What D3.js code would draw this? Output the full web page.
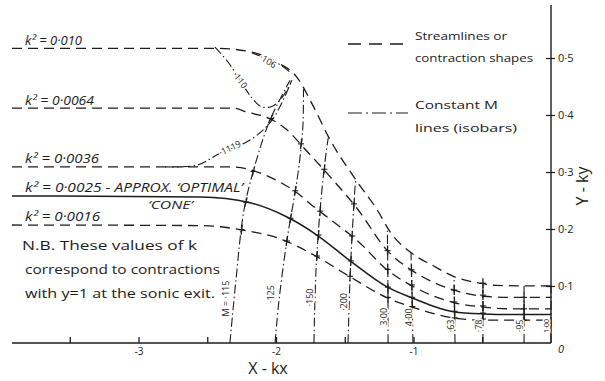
<!DOCTYPE html>
<html>
<head>
<meta charset="utf-8">
<script src="https://cdn.jsdelivr.net/npm/d3@7"></script>
<style>
  body { margin: 0; background: #fff; }
  svg { display: block; }
  text { font-family: "Open Sans", sans-serif; fill: #1c1c1c; }
</style>
</head>
<body>
<svg id="chart" width="605" height="381"></svg>
<script>
// streamlines (contraction shapes), [X, Y]
const streamK0100 = [[-3.92,0.517],[-2.44,0.517],[-2.19,0.511],[-1.99,0.492],[-1.85,0.467],[-1.73,0.416],[-1.61,0.358],[-1.41,0.283],[-1.26,0.232],[-1.17,0.195],[-1.01,0.157],[-0.86,0.136],[-0.71,0.117],[-0.52,0.105],[-0.40,0.101],[0,0.100]];
const streamK0064 = [[-3.92,0.412],[-2.31,0.412],[-2.21,0.405],[-2.04,0.393],[-1.92,0.374],[-1.80,0.343],[-1.63,0.298],[-1.41,0.236],[-1.19,0.162],[-1.01,0.127],[-0.86,0.107],[-0.71,0.093],[-0.49,0.082],[-0.30,0.080],[0,0.080]];
const streamK0036 = [[-3.92,0.309],[-2.33,0.309],[-2.09,0.296],[-1.97,0.282],[-1.85,0.264],[-1.73,0.240],[-1.59,0.214],[-1.41,0.180],[-1.19,0.128],[-1.01,0.100],[-0.86,0.083],[-0.71,0.071],[-0.49,0.063],[-0.30,0.060],[0,0.060]];
const streamK0025 = [[-3.92,0.258],[-2.55,0.256],[-2.19,0.246],[-1.92,0.221],[-1.70,0.189],[-1.46,0.144],[-1.19,0.098],[-1.01,0.079],[-0.86,0.065],[-0.71,0.055],[-0.49,0.051],[-0.30,0.050],[0,0.050]];
const streamK0016 = [[-3.92,0.207],[-2.55,0.206],[-2.24,0.198],[-1.95,0.181],[-1.70,0.151],[-1.46,0.116],[-1.19,0.079],[-1.01,0.063],[-0.86,0.052],[-0.71,0.044],[-0.49,0.040],[0,0.040]];
const streamLabels = ["k\u00b2 = 0\u00b7010", "k\u00b2 = 0\u00b70064", "k\u00b2 = 0\u00b70036", "k\u00b2 = 0\u00b70025 - APPROX. \u2018OPTIMAL\u2019", "k\u00b2 = 0\u00b70016"];

// constant M lines (isobars) rising from the axis
const isobarNames = ["M = \u00b7115", "\u00b7125", "\u00b7150", "\u00b7200", "3\u00b700", "4\u00b700", "\u00b763", "\u00b778", "\u00b795", "1\u00b700"];
const isobarPts = [
  [[-2.335,0],[-2.291,0.111],[-2.233,0.233],[-2.153,0.312],[-2.044,0.391],[-1.898,0.461]],
  [[-2.007,0],[-1.978,0.075],[-1.920,0.181],[-1.847,0.286],[-1.806,0.374],[-1.800,0.445]],
  [[-1.724,0],[-1.709,0.128],[-1.673,0.251],[-1.635,0.335],[-1.620,0.360]],
  [[-1.476,0],[-1.462,0.111],[-1.447,0.186],[-1.425,0.274],[-1.420,0.285]],
  [[-1.185,0],[-1.186,0.100],[-1.190,0.197]],
  [[-1.004,0],[-1.010,0.080],[-1.018,0.158]],
  [[-0.698,0],[-0.705,0.116]],
  [[-0.495,0],[-0.495,0.105]],
  [[-0.196,0],[-0.196,0.100]],
  [[0,0],[0,0.100]]
];
const isobarLabelY = [0.078, 0.086, 0.080, 0.072, 0.046, 0.045, 0.030, 0.030, 0.030, 0.030];

// isobars in the upstream corner
const isobar106 = [[-2.175,0.509],[-2.058,0.498],[-1.956,0.486],[-1.884,0.472]];
const isobar110 = [[-2.444,0.519],[-2.349,0.493],[-2.262,0.461],[-2.175,0.430],[-2.102,0.414],[-2.022,0.416],[-1.949,0.433],[-1.884,0.461]];
const isobar1119 = [[-2.807,0.309],[-2.575,0.312],[-2.407,0.333],[-2.189,0.356],[-2.029,0.391],[-1.884,0.461]];

const xTicks = [-3.5, -3, -2.5, -2, -1.5, -1, -0.5];
const yTicks = [0.1, 0.2, 0.3, 0.4, 0.5];
const noteLines = ["N.B.  These values of  k", "correspond  to contractions", "with  y=1  at  the sonic exit."];

const svg = d3.select('#chart');
const ink = '#1c1c1c';

const x = d3.scaleLinear().domain([-4, 0]).range([1, 551]);
const y = d3.scaleLinear().domain([0, 0.5]).range([343, 58]);

// axes
svg.append('line')
    .attr('x1', x(-3.92)).attr('x2', x(0))
    .attr('y1', y(0)).attr('y2', y(0))
    .attr('stroke', ink).attr('stroke-width', 1.4);
svg.append('line')
    .attr('x1', x(0)).attr('x2', x(0))
    .attr('y1', y(0)).attr('y2', y(0.593))
    .attr('stroke', ink).attr('stroke-width', 1.4);

const xAxis = svg.append('g')
    .attr('transform', 'translate(0,' + y(0) + ')')
    .call(d3.axisBottom(x).tickValues(xTicks).tickSize(0).tickPadding(5)
        .tickFormat(d => Number.isInteger(d) ? String(d) : ''));
xAxis.select('.domain').remove();
xAxis.selectAll('.tick line').attr('y2', -6).attr('stroke', ink).attr('stroke-width', 1.3);
xAxis.selectAll('text').style('font-size', '10px').style('fill', ink);

const yAxis = svg.append('g')
    .attr('transform', 'translate(' + x(0) + ',0)')
    .call(d3.axisRight(y).tickValues(yTicks).tickSize(4).tickPadding(3)
        .tickFormat(d => d3.format('.1f')(d).replace('.', '\u00b7')));
yAxis.select('.domain').remove();
yAxis.selectAll('.tick line').attr('x1', -5).attr('stroke', ink).attr('stroke-width', 1.2);
yAxis.selectAll('text').style('font-size', '11px').style('fill', ink);

svg.append('text')
    .attr('x', x(0) + 7).attr('y', y(0) + 10)
    .style('font-size', '11px').style('font-style', 'italic')
    .text('0');

// streamlines
const streams = [streamK0100, streamK0064, streamK0036, streamK0025, streamK0016];
const streamLine = d3.line().x(d => x(d[0])).y(d => y(d[1])).curve(d3.curveMonotoneX);
streams.forEach((s, i) => {
  svg.append('path')
      .attr('d', streamLine(s))
      .attr('fill', 'none')
      .attr('stroke', ink)
      .attr('stroke-width', i === 3 ? 1.5 : 1.3)
      .attr('stroke-dasharray', i === 3 ? null : '10,6');
});

// isobars
const isoLine = d3.line().x(d => x(d[0])).y(d => y(d[1])).curve(d3.curveCatmullRom);
const dashDot = '9,3,1.5,3';
isobarPts.concat([isobar106, isobar110, isobar1119]).forEach(p => {
  svg.append('path')
      .attr('d', isoLine(p))
      .attr('fill', 'none')
      .attr('stroke', ink)
      .attr('stroke-width', 1.1)
      .attr('stroke-dasharray', dashDot);
});

// little cross marks where isobars cut the streamlines
function streamYAt(pts, X) {
  for (let i = 1; i < pts.length; i++) {
    if (X <= pts[i][0]) {
      const [x0, y0] = pts[i - 1], [x1, y1] = pts[i];
      return y0 + (y1 - y0) * (X - x0) / (x1 - x0);
    }
  }
  return pts[pts.length - 1][1];
}
isobarPts.slice(0, 9).forEach(p => {
  streams.forEach(s => {
    for (let i = 1; i < p.length; i++) {
      const [ax, ay] = p[i - 1], [bx, by] = p[i];
      let prev = null;
      for (let t = 0; t <= 1.0001; t += 0.02) {
        const X = ax + (bx - ax) * t, Y = ay + (by - ay) * t;
        const d = Y - streamYAt(s, X);
        if (prev !== null && Math.sign(d) !== Math.sign(prev)) {
          const px = x(X), py = y(Y);
          const dx = x(bx) - x(ax), dy = y(by) - y(ay);
          const len = Math.hypot(dx, dy);
          svg.append('line')
              .attr('x1', px - dx / len * 5).attr('y1', py - dy / len * 5)
              .attr('x2', px + dx / len * 5).attr('y2', py + dy / len * 5)
              .attr('stroke', ink).attr('stroke-width', 1.3);
          svg.append('line')
              .attr('x1', px - 3).attr('x2', px + 3)
              .attr('y1', py).attr('y2', py)
              .attr('stroke', ink).attr('stroke-width', 1.1);
        }
        prev = d;
      }
    }
  });
});

// isobar labels (rotated, reading upward)
function halo(sel) {
  return sel.attr('stroke', '#fff').attr('stroke-width', 3).attr('paint-order', 'stroke');
}
isobarPts.forEach((p, i) => {
  const lx = x(p[0][0]) - 4, ly = y(isobarLabelY[i]);
  halo(svg.append('text'))
      .attr('transform', 'translate(' + lx + ',' + ly + ') rotate(-90)')
      .attr('text-anchor', 'middle')
      .attr('dy', '0.35em')
      .style('font-size', i === 9 ? '7px' : '9px')
      .text(isobarNames[i]);
});
const cornerLabels = [
  {t: '\u00b7106', p: isobar106[1], r: 33, dx: 0, dy: 2},
  {t: '\u00b7110', p: isobar110[2], r: 52, dx: 0, dy: 0},
  {t: '\u00b71119', p: isobar1119[2], r: -25, dx: 10, dy: -5}
];
cornerLabels.forEach(c => {
  halo(svg.append('text'))
      .attr('transform', 'translate(' + (x(c.p[0]) + c.dx) + ',' + (y(c.p[1]) + c.dy) + ') rotate(' + c.r + ')')
      .attr('text-anchor', 'middle')
      .attr('dy', '0.35em')
      .style('font-size', '9px')
      .text(c.t);
});

// streamline labels at the left
const labelSpec = [
  {w: 57, dy: -3}, {w: 69, dy: -3}, {w: 74, dy: -4}, {w: 218, dy: -4}, {w: 75, dy: -4}
];
streams.forEach((s, i) => {
  svg.append('text')
      .attr('x', 25).attr('y', y(s[0][1]) + labelSpec[i].dy)
      .attr('textLength', labelSpec[i].w).attr('lengthAdjust', 'spacingAndGlyphs')
      .style('font-size', '12px').style('font-style', 'italic')
      .text(streamLabels[i]);
});
svg.append('text')
    .attr('x', 148).attr('y', y(streamK0025[0][1]) + 13)
    .attr('textLength', 45).attr('lengthAdjust', 'spacingAndGlyphs')
    .style('font-size', '10px').style('font-style', 'italic')
    .text('\u2018CONE\u2019');

// N.B. note
noteLines.forEach((t, i) => {
  svg.append('text')
      .attr('x', i === 0 ? 22 : 25).attr('y', 250 + i * 24)
      .attr('textLength', [175, 195, 190][i]).attr('lengthAdjust', 'spacingAndGlyphs')
      .style('font-size', '12px')
      .text(t);
});

// legend
const legend = svg.append('g');
legend.append('line')
    .attr('x1', 348).attr('x2', 408).attr('y1', 44).attr('y2', 44)
    .attr('stroke', ink).attr('stroke-width', 1.3).attr('stroke-dasharray', '13,8');
legend.append('line')
    .attr('x1', 348).attr('x2', 408).attr('y1', 113).attr('y2', 113)
    .attr('stroke', ink).attr('stroke-width', 1.2).attr('stroke-dasharray', '14,4,2,4');
[['Streamlines  or', 40, 92], ['contraction shapes', 62, 118], ['Constant  M', 109, 83], ['lines (isobars)', 132, 102]]
  .forEach(d => {
    legend.append('text')
        .attr('x', 415).attr('y', d[1])
        .attr('textLength', d[2]).attr('lengthAdjust', 'spacingAndGlyphs')
        .style('font-size', '11px')
        .text(d[0]);
  });

// axis titles
svg.append('text')
    .attr('x', 268).attr('y', 374)
    .attr('text-anchor', 'middle')
    .style('font-size', '16px')
    .text('X - kx');
svg.append('text')
    .attr('transform', 'translate(588,186) rotate(-90)')
    .attr('text-anchor', 'middle')
    .style('font-size', '16px')
    .text('Y - ky');
</script>
</body>
</html>
